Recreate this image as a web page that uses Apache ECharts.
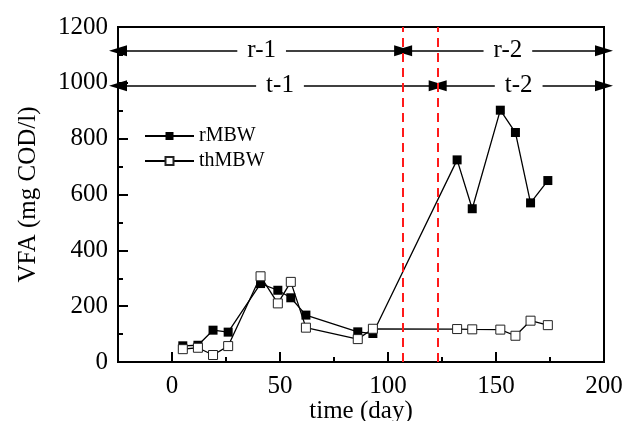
<!DOCTYPE html>
<html><head><meta charset="utf-8">
<script src="https://cdn.jsdelivr.net/npm/echarts@6/dist/echarts.min.js"></script>
<style>html,body{margin:0;padding:0;background:#fff}#c{width:624px;height:421px}</style>
</head><body><div id="c"></div>
<script>
// ---- data ----
const days   = [5, 12, 19, 26, 41, 49, 55, 62, 86, 93, 132, 139, 152, 159, 166, 174];
const rMBW   = [58, 60, 114, 107, 281, 257, 230, 168, 108, 102, 724, 549, 902, 822, 570, 650];
const thMBW  = [46, 51, 25, 57, 307, 210, 287, 123, 82, 119, 118, 117, 116, 94, 148, 132];
const xMajorTicks = [0, 50, 100, 150, 200];
const xMinorTicks = [-25, 25, 75, 125, 175];
const phaseBounds = [107, 123];              // red dashed boundaries
const rSpans  = [[-25, 107], [107, 200]];    // r-1, r-2
const tSpans  = [[-25, 123], [123, 200]];    // t-1, t-2
const rLevel  = 1115, tLevel = 990;
const phaseLabels = ['r-1', 'r-2', 't-1', 't-2'];
const phaseLabelX = [41.5, 155.5, 50, 160.5];
const phaseLabelY = [rLevel, rLevel, tLevel, tLevel];

const FONT = 'Liberation Serif';
const chart = echarts.init(document.getElementById('c'), null, {renderer: 'canvas'});

const arrowLines = [];
rSpans.forEach(s => arrowLines.push([{coord: [s[0], rLevel]}, {coord: [s[1], rLevel]}]));
tSpans.forEach(s => arrowLines.push([{coord: [s[0], tLevel]}, {coord: [s[1], tLevel]}]));

const redLines = phaseBounds.map(b => [{coord: [b, 0]}, {coord: [b, 1200]}]);

const pair = (xs, ys) => xs.map((x, i) => [x, ys[i]]);

chart.setOption({
  animation: false,
  backgroundColor: '#fff',
  grid: {left: 118, right: 20, top: 27, bottom: 59, containLabel: false, outerBoundsMode: 'none',
         show: true, borderColor: '#000', borderWidth: 2, backgroundColor: 'transparent'},
  legend: {
    data: ['rMBW', 'thMBW'], orient: 'vertical', left: 139, top: 121,
    itemWidth: 49, itemHeight: 10, itemGap: 5,
    textStyle: {fontFamily: FONT, fontSize: 20, color: '#000', lineHeight: 20}
  },
  xAxis: [{
    type: 'value', min: -25, max: 200,
    axisLine: {show: true, onZero: false, lineStyle: {color: '#000', width: 2}},
    axisTick: {show: true, inside: true, length: 10, customValues: xMajorTicks, lineStyle: {color: '#000', width: 2}},
    axisLabel: {customValues: xMajorTicks, fontFamily: FONT, fontSize: 25, color: '#000', margin: 12},
    splitLine: {show: false},
    name: 'time (day)', nameLocation: 'middle', nameGap: 37, nameMoveOverlap: false,
    nameTextStyle: {fontFamily: FONT, fontSize: 25, color: '#000'}
  }, {
    type: 'value', min: -25, max: 200, position: 'bottom',
    axisLine: {show: false, onZero: false},
    axisTick: {show: true, inside: true, length: 5, customValues: xMinorTicks, lineStyle: {color: '#000', width: 2}},
    axisLabel: {show: false},
    splitLine: {show: false}
  }],
  yAxis: {
    type: 'value', min: 0, max: 1200, interval: 200,
    axisLine: {show: true, onZero: false, lineStyle: {color: '#000', width: 2}},
    axisTick: {show: true, inside: true, length: 10, lineStyle: {color: '#000', width: 2}},
    minorTick: {show: true, splitNumber: 2, length: 5, lineStyle: {color: '#000', width: 2}},
    axisLabel: {fontFamily: FONT, fontSize: 25, color: '#000', margin: 10, formatter: v => String(v)},
    splitLine: {show: false},
    name: 'VFA (mg COD/l)', nameLocation: 'middle', nameGap: 77,
    nameTextStyle: {fontFamily: FONT, fontSize: 25, color: '#000'}
  },
  series: [
    {
      name: 'rMBW', type: 'line', xAxisIndex: 0, data: pair(days, rMBW),
      symbol: 'rect', symbolSize: 9, showAllSymbol: true,
      lineStyle: {color: '#000', width: 1.3},
      itemStyle: {color: '#000', borderColor: '#000', borderWidth: 0},
      z: 3
    },
    {
      name: 'thMBW', type: 'line', xAxisIndex: 0, data: pair(days, thMBW),
      symbol: 'rect', symbolSize: 9, showAllSymbol: true,
      lineStyle: {color: '#000', width: 1.3},
      itemStyle: {color: '#fff', borderColor: '#222', borderWidth: 1},
      z: 4
    },
    {
      name: 'phases', type: 'scatter', xAxisIndex: 0,
      data: phaseLabels.map((t, i) => ({value: [phaseLabelX[i], phaseLabelY[i]], name: t})),
      symbol: 'rect', symbolSize: 1, itemStyle: {color: '#fff', opacity: 1},
      label: {
        show: true, position: 'inside', formatter: p => p.name,
        fontFamily: FONT, fontSize: 25, color: '#000', opacity: 1,
        backgroundColor: '#fff', padding: [0, 10]
      },
      emphasis: {disabled: true},
      silent: true, z: 10,
      markLine: {
        silent: true, animation: false,
        symbol: ['triangle', 'triangle'], symbolSize: [11, 18],
        label: {show: false},
        lineStyle: {color: '#000', width: 1.5, type: 'solid'},
        data: arrowLines
      }
    },
    {
      name: 'bounds', type: 'line', xAxisIndex: 0, data: [],
      markLine: {
        silent: true, animation: false, symbol: 'none',
        label: {show: false},
        lineStyle: {color: '#ff1a1a', width: 2, type: [9, 6]},
        data: redLines
      },
      z: 2
    }
  ]
});
</script>
</body></html>
